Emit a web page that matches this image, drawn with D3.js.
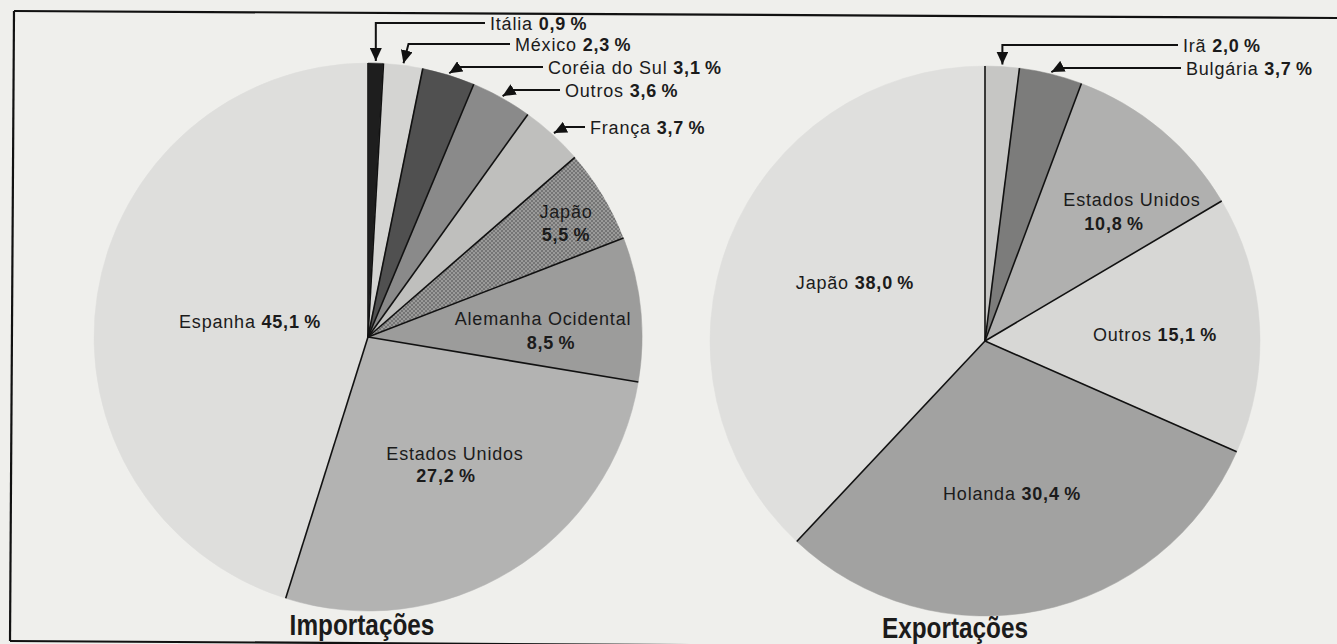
<!DOCTYPE html>
<html>
<head>
<meta charset="utf-8">
<script src="https://cdn.jsdelivr.net/npm/d3@7"></script>
<style>
  body { margin: 0; background: #efefec; }
  svg text { font-family: "Liberation Sans", Arial, sans-serif; fill: #1b1b1b; }
</style>
</head>
<body>
<svg id="chart" width="1337" height="644"></svg>
<script>
// Importações (%)
var impNames = ["Itália", "México", "Coréia do Sul", "Outros", "França", "Japão",
  "Alemanha Ocidental", "Estados Unidos", "Espanha"];
var impValues = [0.9, 2.3, 3.1, 3.6, 3.7, 5.5, 8.5, 27.2, 45.1];
var impColors = ["#1e1e1e", "#d4d4d2", "#505050", "#8a8a8a", "#bfbfbd", "url(#hatch)",
  "#9c9c9b", "#b3b3b2", "#dededc"];

// Exportações (%)
var expNames = ["Irã", "Bulgária", "Estados Unidos", "Outros", "Holanda", "Japão"];
var expValues = [2.0, 3.7, 10.8, 15.1, 30.4, 38.0];
var expColors = ["#c6c6c4", "#7c7c7b", "#b0b0af", "#d7d7d5", "#a2a2a1", "#dfdfdd"];

var titles = ["Importações", "Exportações"];

// label placement: "out" = arrow label (text x, line y, bend), "in" = text inside slice
var impLayout = [
  { type: "out", tx: 490, ly: 23, bend: 0 },
  { type: "out", tx: 515, ly: 44, bend: 5 },
  { type: "out", tx: 548, ly: 67, bend: 10 },
  { type: "out", tx: 565, ly: 90, bend: 10 },
  { type: "out", tx: 590, ly: 127, bend: 12 },
  { type: "in", x: 566, y: 218, x2: 566, y2: 241, split: true },
  { type: "in", x: 543, y: 325, x2: 551, y2: 349, split: true },
  { type: "in", x: 455, y: 460, x2: 446, y2: 482, split: true },
  { type: "in", x: 250, y: 328 }
];
var expLayout = [
  { type: "out", tx: 1183, ly: 45, bend: 0 },
  { type: "out", tx: 1186, ly: 68, bend: 8 },
  { type: "in", x: 1132, y: 206, x2: 1114, y2: 230, split: true },
  { type: "in", x: 1155, y: 341 },
  { type: "in", x: 1012, y: 500 },
  { type: "in", x: 855, y: 289 }
];

var svg = d3.select("#chart");
var defs = svg.append("defs");

var hatch = defs.append("pattern")
  .attr("id", "hatch")
  .attr("patternUnits", "userSpaceOnUse")
  .attr("width", 4).attr("height", 4);
hatch.append("rect").attr("width", 4).attr("height", 4).attr("fill", "#9a9a99");
hatch.append("path").attr("d", "M0,0 L4,4 M4,0 L0,4")
  .attr("stroke", "#6c6c6c").attr("stroke-width", 0.8);

defs.append("marker")
  .attr("id", "arrow")
  .attr("markerUnits", "userSpaceOnUse")
  .attr("markerWidth", 14).attr("markerHeight", 12)
  .attr("refX", 13).attr("refY", 6)
  .attr("orient", "auto")
  .append("path").attr("d", "M0,0 L13,6 L0,12 Z").attr("fill", "#111");

// frame (scan is slightly skewed)
var frame = svg.append("g").attr("stroke", "#111").attr("stroke-width", 2.2).attr("fill", "none");
frame.append("line").attr("x1", 14).attr("y1", 11).attr("x2", 1337).attr("y2", 18);
frame.append("line").attr("x1", 14).attr("y1", 11).attr("x2", 10).attr("y2", 641);
frame.append("line").attr("x1", 10).attr("y1", 641).attr("x2", 1337).attr("y2", 649);

var fmt = d3.format(".1f");
function pct(v) {
  return fmt(v).replace(".", ",") + "\u2009%";
}

function drawPie(cx, cy, r, names, values, colors, layout, title, titleX, titleY) {
  var g = svg.append("g").attr("transform", "translate(" + cx + "," + cy + ")");
  var pie = d3.pie().sort(null).value(function (d) { return d; });
  var arcs = pie(values);
  var arc = d3.arc().innerRadius(0).outerRadius(r);

  g.selectAll("path.slice")
    .data(arcs)
    .enter()
    .append("path")
    .attr("class", "slice")
    .attr("d", arc)
    .attr("fill", function (d, i) { return colors[i]; })
    .attr("stroke", function (d, i) { return colors[i].indexOf("url") === 0 ? "none" : colors[i]; })
    .attr("stroke-width", 0.5);

  // radial divider lines
  g.selectAll("line.div")
    .data(arcs)
    .enter()
    .append("line")
    .attr("class", "div")
    .attr("x1", 0).attr("y1", 0)
    .attr("x2", function (d) { return r * Math.sin(d.startAngle); })
    .attr("y2", function (d) { return -r * Math.cos(d.startAngle); })
    .attr("stroke", "#111")
    .attr("stroke-width", 1.6);

  arcs.forEach(function (d, i) {
    var L = layout[i];
    var name = names[i], val = pct(values[i]);
    if (L.type === "out") {
      var mid = (d.startAngle + d.endAngle) / 2;
      var tipX = cx + (r + 2) * Math.sin(mid);
      var tipY = cy - (r + 2) * Math.cos(mid);
      svg.append("path")
        .attr("d", "M" + (L.tx - 5) + "," + L.ly + " H" + (tipX + L.bend) + " L" + tipX + "," + tipY)
        .attr("fill", "none")
        .attr("stroke", "#111")
        .attr("stroke-width", 2)
        .attr("marker-end", "url(#arrow)");
      var t = svg.append("text")
        .attr("x", L.tx).attr("y", L.ly + 7)
        .style("font-size", "18px").style("letter-spacing", "0.8px");
      t.append("tspan").text(name + " ");
      t.append("tspan").style("font-weight", "bold").text(val);
    } else if (L.split) {
      svg.append("text")
        .attr("x", L.x).attr("y", L.y)
        .attr("text-anchor", "middle")
        .style("font-size", "18px").style("letter-spacing", "0.8px")
        .text(name);
      svg.append("text")
        .attr("x", L.x2).attr("y", L.y2)
        .attr("text-anchor", "middle")
        .style("font-size", "18px").style("letter-spacing", "0.8px")
        .style("font-weight", "bold")
        .text(val);
    } else {
      var t2 = svg.append("text")
        .attr("x", L.x).attr("y", L.y)
        .attr("text-anchor", "middle")
        .style("font-size", "18px").style("letter-spacing", "0.8px");
      t2.append("tspan").text(name + " ");
      t2.append("tspan").style("font-weight", "bold").text(val);
    }
  });

  // condensed bold title
  svg.append("text")
    .attr("transform", "translate(" + titleX + "," + titleY + ") scale(0.84,1)")
    .attr("text-anchor", "middle")
    .style("font-weight", "bold")
    .style("font-size", "29px")
    .text(title);
}

drawPie(368, 337, 274, impNames, impValues, impColors, impLayout, titles[0], 362, 635);
drawPie(985, 341, 275, expNames, expValues, expColors, expLayout, titles[1], 955, 638);
</script>
</body>
</html>
